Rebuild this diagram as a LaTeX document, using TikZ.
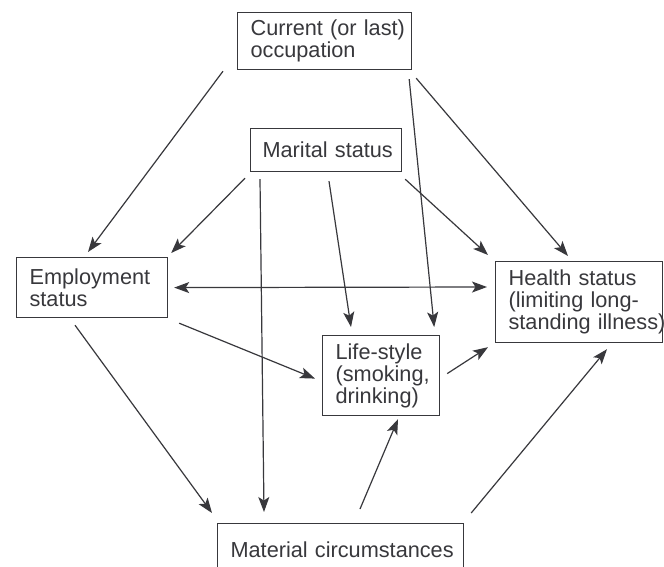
\documentclass[tikz,border=0pt]{standalone}
\usepackage{fontspec}
\setmainfont{Liberation Sans}
\usetikzlibrary{arrows.meta}
\definecolor{ink}{HTML}{38383C}
\begin{document}
\begin{tikzpicture}[x=1pt,y=1pt,
  box/.style={draw=ink, line width=1.2pt, text=ink, anchor=north west, inner xsep=13pt, inner ysep=0pt,
    font=\fontsize{21.7}{22}\selectfont, align=left},
  tip/.tip={Stealth[length=15pt,width=11pt,inset=3.5pt]},
  arr/.style={draw=ink, line width=1.2pt, -tip},
  darr/.style={draw=ink, line width=1.2pt, tip-tip}]
\useasboundingbox (0,0) rectangle (664,566);
\fill[white] (0,0) rectangle (664,566);

% boxes (x, Y = 566 - y)
\node[box, minimum height=57pt, text width=148pt] (cur) at (237,554) {\mbox{Current (or last)}\\occupation};
\node[box, minimum height=43pt, text width=127pt, inner xsep=12pt] (mar) at (250,438) {\mbox{Marital status}};
\node[box, minimum height=60pt, text width=125pt] (emp) at (16,309) {Employment\\status};
\node[box, minimum height=81pt, text width=141pt] (hea) at (495,305) {\mbox{Health status}\\\mbox{(limiting long-}\\\mbox{standing illness)}};
\node[box, minimum height=80pt, text width=91pt] (life) at (322,231) {Life-style\\(smoking,\\drinking)};
\node[box, minimum height=52pt, text width=220pt] (mat) at (217,43) {\mbox{Material circumstances}};

% connectors
\draw[arr] ([shift={(-14,-1)}]cur.south west) -- ([shift={(72,5)}]emp.north west);
\draw[arr] ([shift={(-3,-9)}]cur.south east) -- ([shift={(-6,8)}]life.north east);
\draw[arr] ([shift={(4,-8)}]cur.south east) -- ([shift={(73,5)}]hea.north west);
\draw[arr] ([shift={(-5,-6)}]mar.south west) -- ([shift={(3,4)}]emp.north east);
\draw[arr] ([shift={(10,-7)}]mar.south west) -- ([shift={(47,11)}]mat.north west);
\draw[arr] ([shift={(79,-9)}]mar.south west) -- ([shift={(29,8)}]life.north west);
\draw[arr] ([shift={(3,-7)}]mar.south east) -- ([shift={(-7,6)}]hea.north west);
\draw[darr] ([shift={(6,0)}]emp.east) -- ([shift={(-8,-26)}]hea.north west);
\draw[arr] ([shift={(11,-5)}]emp.south east) -- ([shift={(-7,-3)}]life.west);
\draw[arr] ([shift={(59,-7)}]emp.south west) -- ([shift={(-5,10)}]mat.north west);
\draw[arr] ([shift={(143,14)}]mat.north west) -- ([shift={(76,-3)}]life.south west);
\draw[arr] ([shift={(7,2)}]life.east) -- ([shift={(-7,-4)}]hea.south west);
\draw[arr] ([shift={(7,10)}]mat.north east) -- ([shift={(112,-6)}]hea.south west);
\end{tikzpicture}
\end{document}
